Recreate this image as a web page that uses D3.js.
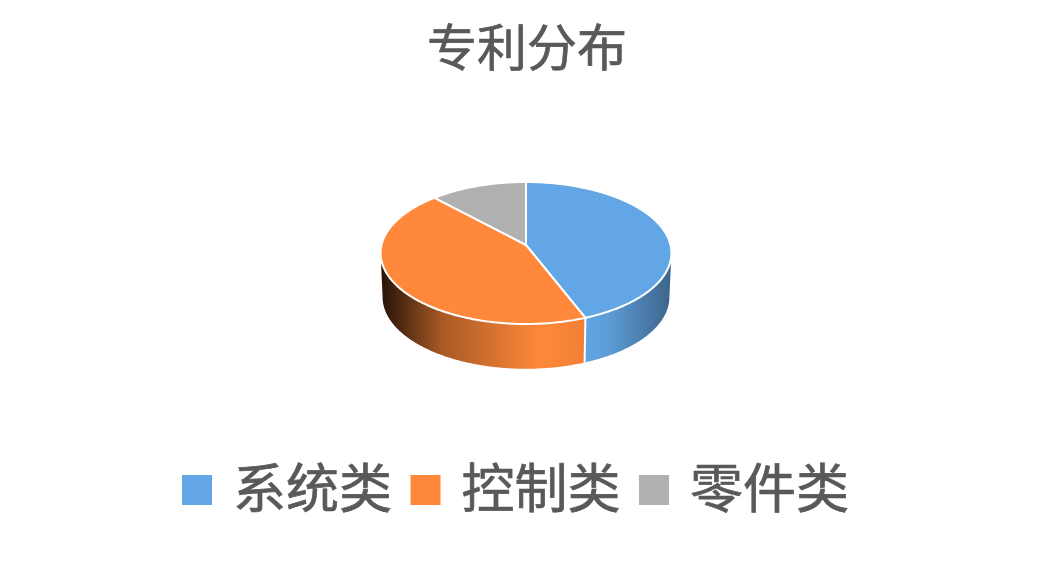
<!DOCTYPE html>
<html>
<head>
<meta charset="utf-8">
<script src="https://cdn.jsdelivr.net/npm/d3@7"></script>
<style>
  html, body { margin: 0; padding: 0; background: #fff; }
  text { font-family: "Noto Sans CJK SC", sans-serif; fill: #595959; stroke: #595959; stroke-width: 0.7px; }
</style>
</head>
<body>
<svg></svg>
<script>
const categories = ["系统类", "控制类", "零件类"];
const values = [44, 44, 12];
const colors = ["#63a6e5", "#ff883a", "#b0b0b0"];
const title = "专利分布";

const width = 1053;
const height = 562;

const svg = d3.select("svg")
    .attr("width", width)
    .attr("height", height)
    .attr("viewBox", [0, 0, width, height])
    .style("display", "block");

// pie angles, clockwise from the top
const arcs = d3.pie().sort(null).value(d => d)(values);

// perspective projection of the unit disc: k pulls the far edge in
const k = -0.1127;
function project(a, o) {
    const u = Math.sin(a), v = -Math.cos(a);
    const w = 1 + k * v;
    return [o.cx + o.rx * u / w, o.cy + o.ry * v / w];
}
const topFace = {cx: 526, cy: 245, rx: 144.5, ry: 70.1};
const bottomFace = {cx: 526, cy: 289, rx: 142.5, ry: 70.8};

function samples(a0, a1) {
    const n = Math.max(2, Math.ceil(Math.abs(a1 - a0) / 0.01));
    return d3.range(n + 1).map(i => a0 + (a1 - a0) * i / n);
}

const line = d3.line();
const defs = svg.append("defs");

function wallGradient(id, stops) {
    defs.append("linearGradient")
        .attr("id", id)
        .selectAll("stop")
        .data(stops)
        .join("stop")
        .attr("offset", d => d[0])
        .attr("stop-color", d => d[1]);
}
wallGradient("wall0", [[0, "#62a5e4"], [0.3, "#5c9bd6"], [1, "#3c6488"]]);
wallGradient("wall1", [[0, "#241208"], [0.3, "#a85a25"], [0.78, "#ff883a"], [1, "#f08034"]]);

// side walls run between the left and right extremes of the projected rim
const edge = Math.asin(-k);
const blueWall = samples(Math.PI / 2 + edge, arcs[0].endAngle);
const orangeWall = samples(arcs[1].startAngle, 3 * Math.PI / 2 - edge);

function wallPath(angles) {
    const top = angles.map(a => project(a, topFace));
    const bottom = angles.slice().reverse().map(a => project(a, bottomFace));
    return line(top.concat(bottom)) + "Z";
}

svg.append("g")
  .selectAll("path")
  .data([[blueWall, "wall0"], [orangeWall, "wall1"]])
  .join("path")
    .attr("d", d => wallPath(d[0]))
    .attr("fill", d => `url(#${d[1]})`);

// white seam where the two walls meet
svg.append("path")
    .attr("d", line([project(arcs[0].endAngle, topFace), project(arcs[0].endAngle, bottomFace)]))
    .attr("stroke", "#fff")
    .attr("stroke-width", 2);

// top face
svg.append("g")
  .selectAll("path")
  .data(arcs)
  .join("path")
    .attr("d", d => line([[topFace.cx, topFace.cy]].concat(
        samples(d.startAngle, d.endAngle).map(a => project(a, topFace)))) + "Z")
    .attr("fill", (d, i) => colors[i])
    .attr("stroke", "#fff")
    .attr("stroke-width", 2)
    .attr("stroke-linejoin", "round");

// title
svg.append("text")
    .attr("x", 527)
    .attr("y", 66)
    .attr("text-anchor", "middle")
    .attr("font-size", 50)
    .text(title);

// legend
const legendX = d3.scalePoint().domain(categories).range([182, 639]);
const legend = svg.append("g")
  .selectAll("g")
  .data(categories)
  .join("g")
    .attr("transform", d => `translate(${legendX(d)},0)`);

legend.append("rect")
    .attr("y", 475)
    .attr("width", 30)
    .attr("height", 30)
    .attr("fill", (d, i) => colors[i]);

legend.append("text")
    .attr("x", 51)
    .attr("y", 508)
    .attr("font-size", 53)
    .text(d => d);
</script>
</body>
</html>
